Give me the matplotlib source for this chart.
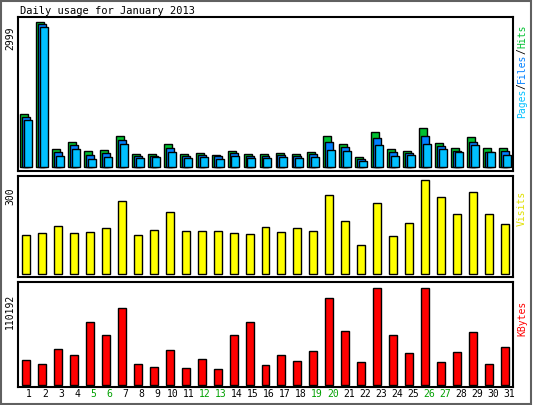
import numpy as np
import matplotlib
matplotlib.use("Agg")
import matplotlib.pyplot as plt

# daily values (January 2013)
days = list(range(1, 32))
weekend = [5, 6, 12, 13, 19, 20, 26, 27]
hits = [1100, 2999, 370, 520, 330, 350, 640, 270, 270, 475, 270, 290, 250, 330, 270, 270,
        290, 270, 310, 640, 475, 210, 720, 370, 330, 800, 500, 390, 620, 390, 390]
files = [1035, 2960, 300, 460, 250, 280, 560, 220, 230, 400, 220, 250, 220, 290, 230, 230,
         250, 230, 270, 520, 420, 160, 600, 300, 290, 640, 430, 330, 520, 300, 340]
pages = [970, 2900, 220, 380, 170, 200, 470, 180, 200, 320, 180, 200, 170, 220, 190, 190,
         200, 180, 210, 360, 330, 120, 460, 230, 240, 480, 380, 300, 450, 300, 250]
visits = [125, 131, 153, 131, 134, 147, 233, 125, 141, 198, 137, 137, 137, 131, 128, 150,
          134, 147, 137, 252, 169, 93, 227, 121, 163, 300, 246, 191, 262, 191, 160]
kbytes = [28400, 23900, 41000, 34100, 71600, 56800, 87400, 23900, 20400, 39800, 19300,
          29500, 18200, 56800, 71600, 22700, 34100, 27300, 38600, 98800, 61300, 26100,
          110192, 56800, 36400, 110192, 26100, 37500, 60200, 23900, 43200]

W, H = 533, 405
fig = plt.figure(figsize=(W / 100, H / 100), dpi=100)
fig.patch.set_facecolor("white")
plt.rcParams["font.family"] = "DejaVu Sans Mono"

def panel(top, bottom, ylo, yhi):
    ax = fig.add_axes([18 / W, 1 - bottom / H, 495 / W, (bottom - top) / H])
    ax.set_xlim(0.5, 31.5)
    ax.set_ylim(ylo, yhi)
    ax.set_xticks([])
    ax.set_yticks([])
    for s in ax.spines.values():
        s.set_linewidth(1.5)
    return ax

x = np.array(days)
ax1 = panel(17, 171, -83, 3103)
ax1.bar(x - 0.12, hits, width=0.5, color="#00c030", edgecolor="black", lw=1)
ax1.bar(x + 0.0, files, width=0.5, color="#0080ff", edgecolor="black", lw=1)
ax1.bar(x + 0.12, pages, width=0.5, color="#00c0ff", edgecolor="black", lw=1)

ax2 = panel(176, 277, -9.6, 312.8)
ax2.bar(x, visits, width=0.5, color="#ffff00", edgecolor="black", lw=1)

ax3 = panel(282, 387, -2272, 117008)
ax3.bar(x, kbytes, width=0.5, color="#ff0000", edgecolor="black", lw=1)

for d in days:
    fig.text((18 + 16 * (d - 0.5) + 3) / W, 1 - 394 / H, str(d), ha="center", va="center",
             fontsize=7, color="#00a000" if d in weekend else "black")

fig.text(20 / W, 1 - 11 / H, "Daily usage for January 2013", fontsize=7.5, va="center")
fig.text(10 / W, 1 - 38 / H, "2999", rotation=90, fontsize=7, ha="center", va="center")
fig.text(10 / W, 1 - 196 / H, "300", rotation=90, fontsize=7, ha="center", va="center")
fig.text(10 / W, 1 - 311 / H, "110192", rotation=90, fontsize=7, ha="center", va="center")

def right_label(parts, y_bottom):
    y = y_bottom
    for txt, col in parts:
        fig.text(522 / W, 1 - y / H, txt, rotation=90, fontsize=7, color=col,
                 ha="center", va="bottom")
        y -= 5.8 * len(txt)

right_label([("Pages", "#00c0ff"), ("/", "black"), ("Files", "#0080ff"),
             ("/", "black"), ("Hits", "#00c030")], 118)
right_label([("Visits", "#e0e000")], 226)
right_label([("KBytes", "#ff0000")], 336)

fig.add_artist(plt.Rectangle((0.002, 0.002), 0.995, 0.995, transform=fig.transFigure,
                             fill=False, edgecolor="#606060", lw=1.5))
fig.savefig("out.png", dpi=100)
